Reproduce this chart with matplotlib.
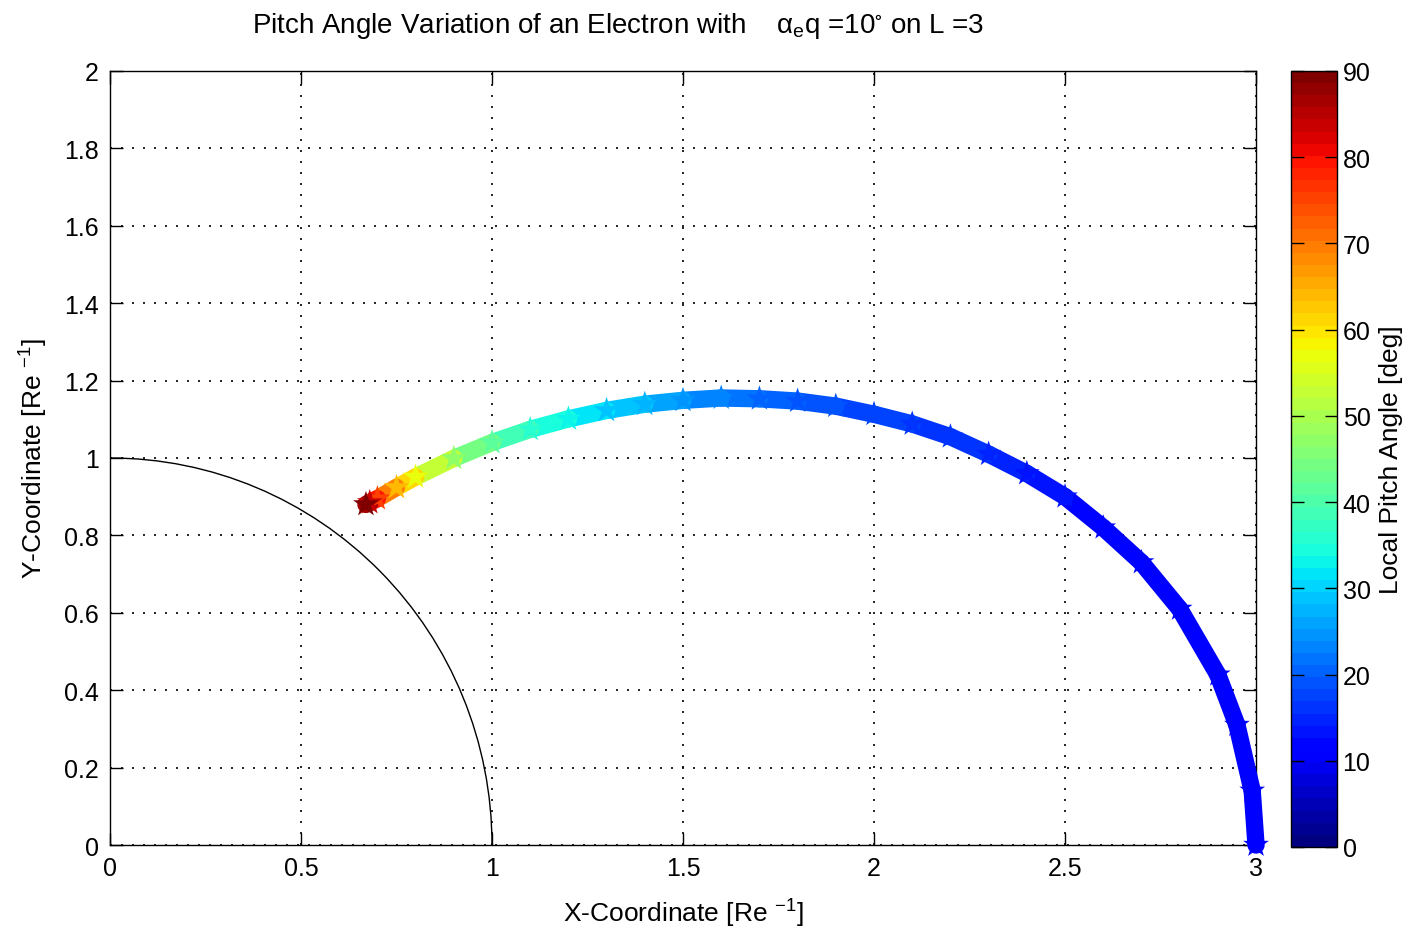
import numpy as np
import matplotlib.pyplot as plt
from matplotlib.collections import LineCollection
from matplotlib.patches import Arc

plt.rcParams['font.family'] = ['Liberation Sans', 'DejaVu Sans']
plt.rcParams['mathtext.default'] = 'regular'

# points along the drift path (Re)
x_pos = [3.00, 2.99, 2.95, 2.90, 2.80, 2.70, 2.60, 2.50, 2.40, 2.30, 2.20, 2.10,
         2.00, 1.90, 1.80, 1.70, 1.60, 1.50, 1.40, 1.30, 1.20, 1.10, 1.00, 0.90,
         0.80, 0.75, 0.70, 0.68, 0.67]
y_pos = [0.00, 0.14, 0.31, 0.44, 0.61, 0.73, 0.82, 0.90, 0.96, 1.01, 1.055, 1.088,
         1.113, 1.134, 1.147, 1.153, 1.155, 1.149, 1.139, 1.123, 1.101, 1.074, 1.040, 0.999,
         0.951, 0.924, 0.895, 0.885, 0.880]
# local pitch angle (deg)
pitch = [10.0, 10.0, 10.1, 10.2, 10.6, 11.3, 12.0, 13.0, 14.0, 15.0, 16.0, 16.5,
         17.3, 18.5, 19.5, 21.0, 22.5, 24.7, 27.0, 29.5, 32.5, 36.5, 41.3, 47.7,
         57.2, 64.0, 75.7, 84.0, 90.0]

x_ticks = [0, 0.5, 1, 1.5, 2, 2.5, 3]
y_ticks = [0, 0.2, 0.4, 0.6, 0.8, 1, 1.2, 1.4, 1.6, 1.8, 2]
cb_ticks = [0, 10, 20, 30, 40, 50, 60, 70, 80, 90]

cmap = plt.get_cmap('jet', 64)

fig = plt.figure(figsize=(14.21, 9.37), dpi=100)
ax = fig.add_axes([0.0774, 0.0971, 0.8065, 0.8261])

# earth surface
ax.add_patch(Arc((0, 0), 2, 2, theta1=0, theta2=90, color='black', lw=1.0))

pts = np.column_stack([x_pos, y_pos])
segs = np.stack([pts[:-1], pts[1:]], axis=1)
seg_val = (np.array(pitch[:-1]) + np.array(pitch[1:])) / 2
lc = LineCollection(segs, cmap=cmap, norm=plt.Normalize(0, 90), linewidth=12.5,
                    capstyle='round', zorder=3, clip_on=False)
lc.set_array(seg_val)
ax.add_collection(lc)
sc = ax.scatter(x_pos, y_pos, c=pitch, cmap=cmap, vmin=0, vmax=90, marker='*',
                s=380, linewidths=0, zorder=4, clip_on=False)

ax.set_xlim(0, 3)
ax.set_ylim(0, 2)
ax.set_xticks(x_ticks)
ax.set_xticklabels(['0', '0.5', '1', '1.5', '2', '2.5', '3'])
ax.set_yticks(y_ticks)
ax.set_yticklabels(['0', '0.2', '0.4', '0.6', '0.8', '1', '1.2', '1.4', '1.6', '1.8', '2'])
ax.grid(True, color='black', linestyle=(0, (1.2, 5.4)), linewidth=1.2)
ax.tick_params(direction='in', top=True, right=True, length=9, width=1,
               labelsize=18, pad=8)
for s in ax.spines.values():
    s.set_linewidth(1.0)

ax.set_xlabel('X-Coordinate [Re $^{-1}$]', fontsize=19, labelpad=12)
ax.set_ylabel('Y-Coordinate [Re $^{-1}$]', fontsize=19, labelpad=10)
ax.set_title(r'Pitch Angle Variation of an Electron with    $\alpha_{e}$q =10$^{\circ}$ on L =3',
             fontsize=20, x=0.443, pad=28)

cax = fig.add_axes([0.9085, 0.0950, 0.0324, 0.8282])
cb = fig.colorbar(sc, cax=cax, ticks=cb_ticks)
cb.solids.set_alpha(1)
cax.tick_params(direction='in', length=9, width=1, labelsize=18, left=True, right=True, pad=4)
cb.outline.set_linewidth(1.0)
cb.set_label('Local Pitch Angle [deg]', fontsize=19, labelpad=6)

fig.savefig('out.png', dpi=100)
